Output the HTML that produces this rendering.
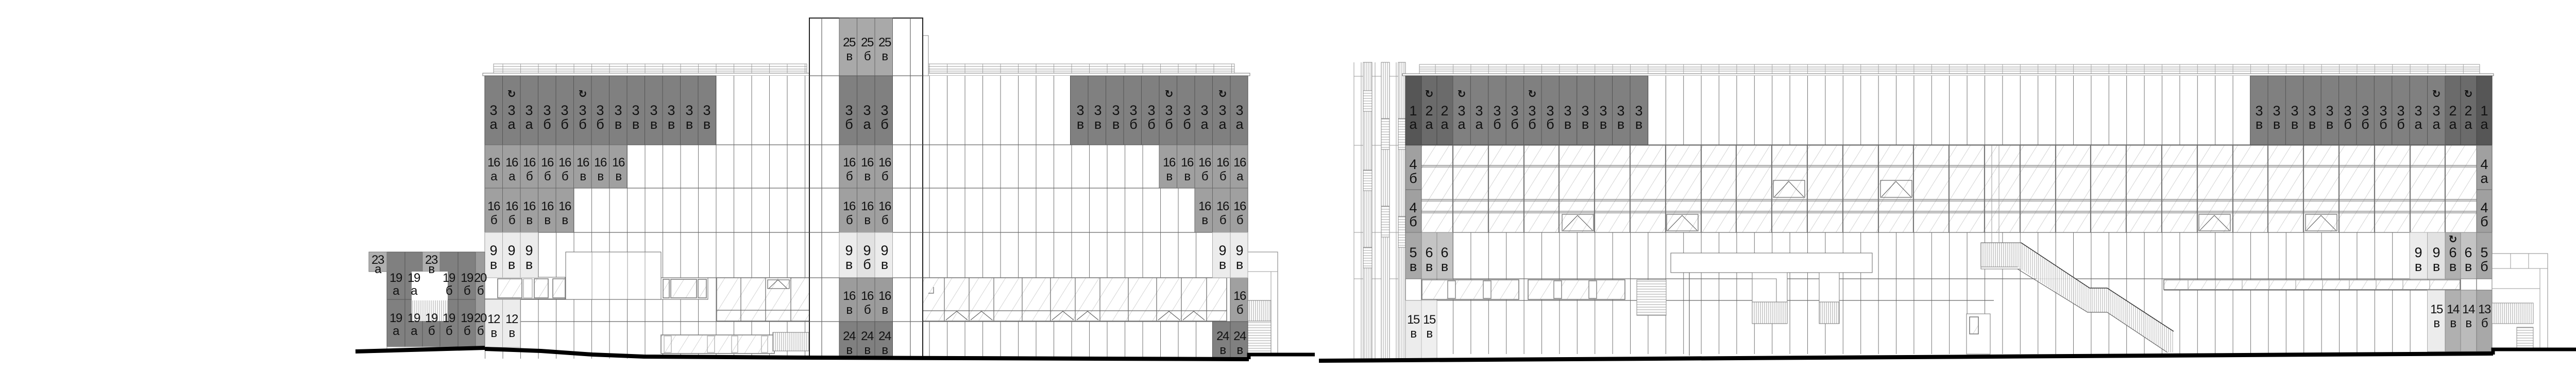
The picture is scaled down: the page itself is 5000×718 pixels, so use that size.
<!DOCTYPE html>
<html><head><meta charset="utf-8"><style>
html,body{margin:0;padding:0;background:#fff;}
svg{display:block;}
text{font-family:"Liberation Sans","DejaVu Sans",sans-serif;font-size:27px;fill:#111;text-anchor:middle;}
.s text,text.s{font-size:24px;letter-spacing:-1.5px;}
.ic{font-family:"DejaVu Sans",sans-serif;font-size:20px;font-weight:bold;}
.c3{fill:#808080;stroke:#555;stroke-width:1}
.c1{fill:#565656;stroke:#444;stroke-width:1}
.c2{fill:#6b6b6b;stroke:#444;stroke-width:1}
.cm{fill:#a0a0a0;stroke:#666;stroke-width:1}
.cl{fill:#ececec;stroke:#aaa;stroke-width:1}
.cb{fill:#c4c4c4;stroke:#888;stroke-width:1}
.ln{stroke:#666;stroke-width:1.2;fill:none}
.lt{stroke:#999;stroke-width:1;fill:none}
.fr{fill:url(#hatch);stroke:#777;stroke-width:1.5}
</style></head><body>
<svg width="5000" height="718" viewBox="0 0 5000 718" xmlns="http://www.w3.org/2000/svg">
<defs>
<pattern id="vL" patternUnits="userSpaceOnUse" x="941" y="0" width="34.5" height="718"><line x1="0.5" y1="0" x2="0.5" y2="718" stroke="#777" stroke-width="1.1"/></pattern>
<pattern id="vR" patternUnits="userSpaceOnUse" x="2820" y="0" width="34.4" height="718"><line x1="0.5" y1="0" x2="0.5" y2="718" stroke="#777" stroke-width="1.1"/></pattern>
<pattern id="hatch" patternUnits="userSpaceOnUse" width="22" height="22" patternTransform="rotate(32)"><rect width="22" height="22" fill="#fff"/><line x1="5" y1="0" x2="5" y2="22" stroke="#d4d4d4" stroke-width="1"/></pattern>
<pattern id="vbar" patternUnits="userSpaceOnUse" width="4" height="10"><rect width="4" height="10" fill="#fff"/><line x1="1" y1="0" x2="1" y2="10" stroke="#888" stroke-width="0.8"/></pattern>
<pattern id="hbar" patternUnits="userSpaceOnUse" width="10" height="5"><rect width="10" height="5" fill="#fff"/><line x1="0" y1="1" x2="10" y2="1" stroke="#888" stroke-width="0.8"/></pattern>
</defs>

<!-- ================= LEFT BUILDING ================= -->
<!-- railings -->
<g class="lt">
<rect x="958" y="124" width="608" height="18"/><line x1="958" y1="129" x2="1566" y2="129"/><line x1="958" y1="134" x2="1566" y2="134"/><line x1="958" y1="138" x2="1566" y2="138"/>
<rect x="1800" y="124" width="596" height="18"/><line x1="1800" y1="129" x2="2396" y2="129"/><line x1="1800" y1="134" x2="2396" y2="134"/><line x1="1800" y1="138" x2="2396" y2="138"/>
</g>
<rect x="958" y="124" width="608" height="18" fill="url(#vL)" opacity="0.6"/>
<rect x="1800" y="124" width="596" height="18" fill="url(#vL)" opacity="0.6"/>
<rect x="937" y="142" width="1489" height="5" fill="#fff" stroke="#777"/>
<!-- main block -->
<rect x="941" y="147" width="1481" height="549" fill="#fff"/>
<rect x="941" y="147" width="1481" height="549" fill="url(#vL)"/>
<g class="ln">
<line x1="941" y1="281" x2="2422" y2="281"/><line x1="941" y1="365" x2="2422" y2="365"/>
<line x1="941" y1="451" x2="2422" y2="451"/><line x1="941" y1="539" x2="2422" y2="539"/>
<line x1="941" y1="581" x2="1283" y2="581"/><line x1="941" y1="624" x2="2422" y2="624"/>
<line x1="2422" y1="147" x2="2422" y2="696"/><line x1="941" y1="147" x2="941" y2="676"/>
</g>
<!-- lower left details -->
<rect x="1098" y="489" width="185" height="92" fill="#fff" stroke="#666"/>
<line x1="1149" y1="489" x2="1149" y2="581" class="lt"/><line x1="1183" y1="489" x2="1183" y2="581" class="lt"/><line x1="1218" y1="489" x2="1218" y2="581" class="lt"/><line x1="1252" y1="489" x2="1252" y2="581" class="lt"/>
<rect x="941" y="538" width="156" height="42" fill="#fff" stroke="#666"/>
<rect x="966" y="541" width="47" height="37" class="fr"/><rect x="1016" y="541" width="17" height="37" fill="#fff" stroke="#888"/><rect x="1037" y="541" width="27" height="37" class="fr"/><rect x="1073" y="541" width="24" height="37" class="fr"/>
<rect x="1283" y="539" width="91" height="42" fill="#fff" stroke="#666"/>
<rect x="1287" y="542" width="12" height="36" class="fr"/><rect x="1302" y="542" width="50" height="36" class="fr"/><rect x="1355" y="542" width="16" height="36" class="fr"/>
<rect x="1391" y="539" width="180" height="84" class="fr"/>
<g class="ln"><line x1="1438" y1="539" x2="1438" y2="623"/><line x1="1486" y1="539" x2="1486" y2="623"/><line x1="1535" y1="539" x2="1535" y2="623"/><line x1="1391" y1="602" x2="1571" y2="602"/>
<polyline points="1492,560 1510,543 1528,560"/><rect x="1490" y="543" width="42" height="17"/></g>
<rect x="1283" y="650" width="220" height="36" class="fr"/>
<g class="lt"><rect x="1289" y="652" width="14" height="32"/><rect x="1373" y="652" width="14" height="32"/><rect x="1420" y="652" width="12" height="32"/><rect x="1478" y="652" width="12" height="32"/></g>
<rect x="1500" y="645" width="71" height="36" fill="url(#vbar)" stroke="#777"/>
<!-- right glazing -->
<rect x="1791" y="539" width="590" height="84" class="fr"/>
<g class="ln">
<line x1="1833" y1="539" x2="1833" y2="623"/><line x1="1881" y1="539" x2="1881" y2="623"/><line x1="1929" y1="539" x2="1929" y2="623"/><line x1="1984" y1="539" x2="1984" y2="623"/><line x1="2039" y1="539" x2="2039" y2="623"/><line x1="2087" y1="539" x2="2087" y2="623"/><line x1="2135" y1="539" x2="2135" y2="623"/><line x1="2190" y1="539" x2="2190" y2="623"/><line x1="2245" y1="539" x2="2245" y2="623"/><line x1="2293" y1="539" x2="2293" y2="623"/><line x1="2342" y1="539" x2="2342" y2="623"/>
<line x1="1791" y1="603" x2="2381" y2="603"/>
<polyline points="1836,621 1857,604 1878,621"/><polyline points="1884,621 1905,604 1926,621"/>
<polyline points="2042,621 2063,604 2084,621"/><polyline points="2090,621 2111,604 2132,621"/>
<polyline points="2248,621 2269,604 2290,621"/><polyline points="2296,621 2317,604 2338,621"/>
<polyline points="1812,557 1812,569 1802,569"/>
</g>
<!-- right extension -->
<rect x="2422" y="489" width="58" height="198" fill="#fff" stroke="#777"/>
<line x1="2422" y1="527" x2="2480" y2="527" class="lt"/><line x1="2467" y1="527" x2="2467" y2="687" class="lt"/>
<rect x="2422" y="583" width="45" height="40" fill="url(#vbar)" stroke="#777"/>
<rect x="2422" y="623" width="45" height="63" fill="url(#hbar)" stroke="#777"/>
<!-- tower -->
<rect x="1791" y="69" width="11" height="78" fill="#fff" stroke="#888"/>
<rect x="1571" y="35" width="220" height="658" fill="#fff" stroke="#222" stroke-width="2"/>
<g class="ln"><line x1="1595" y1="35" x2="1595" y2="693"/><line x1="1767" y1="35" x2="1767" y2="693"/><line x1="1571" y1="147" x2="1791" y2="147"/>
<line x1="1571" y1="281" x2="1791" y2="281"/><line x1="1571" y1="365" x2="1791" y2="365"/><line x1="1571" y1="451" x2="1791" y2="451"/><line x1="1571" y1="539" x2="1791" y2="539"/><line x1="1571" y1="624" x2="1791" y2="624"/></g>
<g>
<rect x="1629" y="35" width="34.5" height="112" fill="#a9a9a9" stroke="#666"/><rect x="1663.5" y="35" width="34.5" height="112" fill="#a9a9a9" stroke="#666"/><rect x="1698" y="35" width="34.5" height="112" fill="#a9a9a9" stroke="#666"/>
<rect x="1629" y="147" width="34.5" height="134" class="c3"/><rect x="1663.5" y="147" width="34.5" height="134" class="c3"/><rect x="1698" y="147" width="34.5" height="134" class="c3"/>
<rect x="1629" y="281" width="34.5" height="84" class="cm"/><rect x="1663.5" y="281" width="34.5" height="84" class="cm"/><rect x="1698" y="281" width="34.5" height="84" class="cm"/>
<rect x="1629" y="365" width="34.5" height="86" class="cm"/><rect x="1663.5" y="365" width="34.5" height="86" class="cm"/><rect x="1698" y="365" width="34.5" height="86" class="cm"/>
<rect x="1629" y="451" width="34.5" height="88" class="cl"/><rect x="1663.5" y="451" width="34.5" height="88" fill="#e2e2e2" stroke="#aaa"/><rect x="1698" y="451" width="34.5" height="88" class="cl"/>
<rect x="1629" y="539" width="34.5" height="85" fill="#9c9c9c" stroke="#666"/><rect x="1663.5" y="539" width="34.5" height="85" fill="#9c9c9c" stroke="#666"/><rect x="1698" y="539" width="34.5" height="85" fill="#9c9c9c" stroke="#666"/>
<rect x="1629" y="624" width="34.5" height="69" class="c3"/><rect x="1663.5" y="624" width="34.5" height="69" class="c3"/><rect x="1698" y="624" width="34.5" height="69" class="c3"/>
</g>
<!-- left dark row cells -->
<g class="c3">
<rect x="941" y="147" width="34.5" height="134"/><rect x="975.5" y="147" width="34.5" height="134"/><rect x="1010" y="147" width="34.5" height="134"/><rect x="1044.5" y="147" width="34.5" height="134"/><rect x="1079" y="147" width="34.5" height="134"/><rect x="1113.5" y="147" width="34.5" height="134"/><rect x="1148" y="147" width="34.5" height="134"/><rect x="1182.5" y="147" width="34.5" height="134"/><rect x="1217" y="147" width="34.5" height="134"/><rect x="1251.5" y="147" width="34.5" height="134"/><rect x="1286" y="147" width="34.5" height="134"/><rect x="1320.5" y="147" width="34.5" height="134"/><rect x="1355" y="147" width="34.5" height="134"/>
<rect x="2077.5" y="147" width="34.5" height="134"/><rect x="2112" y="147" width="34.5" height="134"/><rect x="2146.5" y="147" width="34.5" height="134"/><rect x="2181" y="147" width="34.5" height="134"/><rect x="2215.5" y="147" width="34.5" height="134"/><rect x="2250" y="147" width="34.5" height="134"/><rect x="2284.5" y="147" width="34.5" height="134"/><rect x="2319" y="147" width="34.5" height="134"/><rect x="2353.5" y="147" width="34.5" height="134"/><rect x="2388" y="147" width="34" height="134"/>
</g>
<g class="cm">
<rect x="941" y="281" width="34.5" height="84"/><rect x="975.5" y="281" width="34.5" height="84"/><rect x="1010" y="281" width="34.5" height="84"/><rect x="1044.5" y="281" width="34.5" height="84"/><rect x="1079" y="281" width="34.5" height="84"/><rect x="1113.5" y="281" width="34.5" height="84"/><rect x="1148" y="281" width="34.5" height="84"/><rect x="1182.5" y="281" width="34.5" height="84"/>
<rect x="2250" y="281" width="34.5" height="84"/><rect x="2284.5" y="281" width="34.5" height="84"/><rect x="2319" y="281" width="34.5" height="84"/><rect x="2353.5" y="281" width="34.5" height="84"/><rect x="2388" y="281" width="34" height="84"/>
<rect x="941" y="365" width="34.5" height="86"/><rect x="975.5" y="365" width="34.5" height="86"/><rect x="1010" y="365" width="34.5" height="86"/><rect x="1044.5" y="365" width="34.5" height="86"/><rect x="1079" y="365" width="34.5" height="86"/>
<rect x="2319" y="365" width="34.5" height="86"/><rect x="2353.5" y="365" width="34.5" height="86"/><rect x="2388" y="365" width="34" height="86"/>
<rect x="2388" y="539" width="34" height="85"/>
</g>
<g class="cl">
<rect x="941" y="451" width="34.5" height="88"/><rect x="975.5" y="451" width="34.5" height="88"/><rect x="1010" y="451" width="34.5" height="88"/>
<rect x="2353.5" y="451" width="34.5" height="88"/><rect x="2388" y="451" width="34" height="88"/>
<rect x="941" y="581" width="34.5" height="93"/><rect x="975.5" y="581" width="34.5" height="93"/>
</g>
<g class="c3"><rect x="2353.5" y="624" width="34.5" height="72"/><rect x="2388" y="624" width="34" height="72"/></g>
<!-- annex -->
<rect x="751" y="489" width="190" height="184" class="c3"/>
<g stroke="#555" stroke-width="1"><line x1="786" y1="489" x2="786" y2="673"/><line x1="820" y1="489" x2="820" y2="673"/><line x1="854" y1="489" x2="854" y2="673"/><line x1="889" y1="489" x2="889" y2="673"/><line x1="751" y1="581" x2="941" y2="581"/></g>
<rect x="923" y="489" width="18" height="184" fill="#9c9c9c" stroke="#666"/>
<rect x="716" y="489" width="35" height="38" fill="#b0b0b0" stroke="#777"/>
<rect x="820" y="489" width="34" height="38" fill="#b0b0b0" stroke="#777"/>
<rect x="799" y="527" width="70" height="56" fill="#fff"/>
<rect x="799" y="583" width="70" height="40" fill="url(#vbar)"/>
<rect x="751" y="673" width="190" height="4" fill="#fff" stroke="#999"/>

<!-- labels left -->
<g>
<text x="958" y="223">3<tspan x="958" dy="27">а</tspan></text>
<text x="993" y="223">3<tspan x="993" dy="27">а</tspan></text>
<text x="1027" y="223">3<tspan x="1027" dy="27">а</tspan></text>
<text x="1062" y="223">3<tspan x="1062" dy="27">б</tspan></text>
<text x="1096" y="223">3<tspan x="1096" dy="27">б</tspan></text>
<text x="1131" y="223">3<tspan x="1131" dy="27">б</tspan></text>
<text x="1165" y="223">3<tspan x="1165" dy="27">б</tspan></text>
<text x="1200" y="223">3<tspan x="1200" dy="27">в</tspan></text>
<text x="1234" y="223">3<tspan x="1234" dy="27">в</tspan></text>
<text x="1269" y="223">3<tspan x="1269" dy="27">в</tspan></text>
<text x="1303" y="223">3<tspan x="1303" dy="27">в</tspan></text>
<text x="1338" y="223">3<tspan x="1338" dy="27">в</tspan></text>
<text x="1372" y="223">3<tspan x="1372" dy="27">в</tspan></text>
<text x="1648" y="223">3<tspan x="1648" dy="27">б</tspan></text>
<text x="1683" y="223">3<tspan x="1683" dy="27">а</tspan></text>
<text x="1717" y="223">3<tspan x="1717" dy="27">б</tspan></text>
<text x="2097" y="223">3<tspan x="2097" dy="27">в</tspan></text>
<text x="2131" y="223">3<tspan x="2131" dy="27">в</tspan></text>
<text x="2166" y="223">3<tspan x="2166" dy="27">в</tspan></text>
<text x="2200" y="223">3<tspan x="2200" dy="27">б</tspan></text>
<text x="2235" y="223">3<tspan x="2235" dy="27">б</tspan></text>
<text x="2269" y="223">3<tspan x="2269" dy="27">б</tspan></text>
<text x="2304" y="223">3<tspan x="2304" dy="27">б</tspan></text>
<text x="2338" y="223">3<tspan x="2338" dy="27">а</tspan></text>
<text x="2373" y="223">3<tspan x="2373" dy="27">а</tspan></text>
<text x="2406" y="223">3<tspan x="2406" dy="27">а</tspan></text>
<text class="ic" x="993" y="189">↻</text><text class="ic" x="1131" y="189">↻</text><text class="ic" x="2269" y="189">↻</text><text class="ic" x="2373" y="189">↻</text>
</g>
<g class="s">
<text x="958" y="323">16<tspan x="958" dy="27">а</tspan></text>
<text x="993" y="323">16<tspan x="993" dy="27">а</tspan></text>
<text x="1027" y="323">16<tspan x="1027" dy="27">б</tspan></text>
<text x="1062" y="323">16<tspan x="1062" dy="27">б</tspan></text>
<text x="1096" y="323">16<tspan x="1096" dy="27">б</tspan></text>
<text x="1131" y="323">16<tspan x="1131" dy="27">в</tspan></text>
<text x="1165" y="323">16<tspan x="1165" dy="27">в</tspan></text>
<text x="1200" y="323">16<tspan x="1200" dy="27">в</tspan></text>
<text x="1648" y="323">16<tspan x="1648" dy="27">б</tspan></text>
<text x="1683" y="323">16<tspan x="1683" dy="27">в</tspan></text>
<text x="1717" y="323">16<tspan x="1717" dy="27">б</tspan></text>
<text x="2269" y="323">16<tspan x="2269" dy="27">в</tspan></text>
<text x="2304" y="323">16<tspan x="2304" dy="27">в</tspan></text>
<text x="2338" y="323">16<tspan x="2338" dy="27">б</tspan></text>
<text x="2373" y="323">16<tspan x="2373" dy="27">б</tspan></text>
<text x="2406" y="323">16<tspan x="2406" dy="27">а</tspan></text>
<text x="958" y="408">16<tspan x="958" dy="27">б</tspan></text>
<text x="993" y="408">16<tspan x="993" dy="27">б</tspan></text>
<text x="1027" y="408">16<tspan x="1027" dy="27">в</tspan></text>
<text x="1062" y="408">16<tspan x="1062" dy="27">в</tspan></text>
<text x="1096" y="408">16<tspan x="1096" dy="27">в</tspan></text>
<text x="1648" y="408">16<tspan x="1648" dy="27">б</tspan></text>
<text x="1683" y="408">16<tspan x="1683" dy="27">в</tspan></text>
<text x="1717" y="408">16<tspan x="1717" dy="27">б</tspan></text>
<text x="2338" y="408">16<tspan x="2338" dy="27">в</tspan></text>
<text x="2373" y="408">16<tspan x="2373" dy="27">б</tspan></text>
<text x="2406" y="408">16<tspan x="2406" dy="27">б</tspan></text>
<text x="1648" y="582">16<tspan x="1648" dy="27">в</tspan></text>
<text x="1683" y="582">16<tspan x="1683" dy="27">б</tspan></text>
<text x="1717" y="582">16<tspan x="1717" dy="27">в</tspan></text>
<text x="2406" y="582">16<tspan x="2406" dy="27">б</tspan></text>
<text x="1648" y="660">24<tspan x="1648" dy="27">в</tspan></text>
<text x="1683" y="660">24<tspan x="1683" dy="27">в</tspan></text>
<text x="1717" y="660">24<tspan x="1717" dy="27">в</tspan></text>
<text x="2373" y="660">24<tspan x="2373" dy="27">в</tspan></text>
<text x="2406" y="660">24<tspan x="2406" dy="27">в</tspan></text>
<text x="1648" y="90">25<tspan x="1648" dy="27">в</tspan></text>
<text x="1683" y="90">25<tspan x="1683" dy="27">б</tspan></text>
<text x="1717" y="90">25<tspan x="1717" dy="27">в</tspan></text>
<text x="958" y="627">12<tspan x="958" dy="27">в</tspan></text>
<text x="993" y="627">12<tspan x="993" dy="27">в</tspan></text>
<text x="733" y="512">23<tspan x="733" dy="18">а</tspan></text>
<text x="837" y="512">23<tspan x="837" dy="18">в</tspan></text>
<text x="768" y="547">19<tspan x="768" dy="25">а</tspan></text>
<text x="803" y="547">19<tspan x="803" dy="25">а</tspan></text>
<text x="871" y="547">19<tspan x="871" dy="25">б</tspan></text>
<text x="906" y="547">19<tspan x="906" dy="25">б</tspan></text>
<text x="932" y="547">20<tspan x="932" dy="25">б</tspan></text>
<text x="768" y="625">19<tspan x="768" dy="25">а</tspan></text>
<text x="803" y="625">19<tspan x="803" dy="25">а</tspan></text>
<text x="837" y="625">19<tspan x="837" dy="25">б</tspan></text>
<text x="871" y="625">19<tspan x="871" dy="25">б</tspan></text>
<text x="906" y="625">19<tspan x="906" dy="25">б</tspan></text>
<text x="932" y="625">20<tspan x="932" dy="25">б</tspan></text>
</g>
<g>
<text x="958" y="495">9<tspan x="958" dy="27">в</tspan></text>
<text x="993" y="495">9<tspan x="993" dy="27">в</tspan></text>
<text x="1027" y="495">9<tspan x="1027" dy="27">в</tspan></text>
<text x="1648" y="495">9<tspan x="1648" dy="27">в</tspan></text>
<text x="1683" y="495">9<tspan x="1683" dy="27">б</tspan></text>
<text x="1717" y="495">9<tspan x="1717" dy="27">в</tspan></text>
<text x="2373" y="495">9<tspan x="2373" dy="27">в</tspan></text>
<text x="2406" y="495">9<tspan x="2406" dy="27">в</tspan></text>
</g>
<!-- ground left -->
<polyline points="690,682 941,675" fill="none" stroke="#000" stroke-width="8"/>
<polyline points="941,677 1050,681 1150,688 1250,692 1571,694 2424,697" fill="none" stroke="#000" stroke-width="8"/>
<polyline points="2424,697 2424,688 2552,688" fill="none" stroke="#000" stroke-width="7"/>

<!-- ================= RIGHT BUILDING ================= -->
<!-- stair tower left -->
<g class="lt">
<line x1="2628" y1="121" x2="2628" y2="700"/><line x1="2642" y1="121" x2="2642" y2="700"/>
<line x1="2628" y1="148" x2="2728" y2="148"/><line x1="2628" y1="282" x2="2728" y2="282"/><line x1="2628" y1="451" x2="2728" y2="451"/><line x1="2628" y1="541" x2="2728" y2="541"/>
<line x1="2669" y1="121" x2="2669" y2="700"/><line x1="2710" y1="121" x2="2710" y2="700"/>
</g>
<rect x="2646" y="121" width="17" height="579" fill="url(#vbar)" stroke="#888"/>
<rect x="2681" y="121" width="16" height="579" fill="url(#vbar)" stroke="#888"/>
<rect x="2714" y="121" width="14" height="579" fill="url(#vbar)" stroke="#888"/>
<g fill="url(#hbar)" stroke="#888"><rect x="2646" y="176" width="17" height="40"/><rect x="2646" y="330" width="17" height="40"/><rect x="2646" y="480" width="17" height="40"/><rect x="2681" y="230" width="16" height="60"/><rect x="2681" y="400" width="16" height="60"/><rect x="2714" y="230" width="14" height="60"/><rect x="2714" y="420" width="14" height="60"/></g>
<!-- railing -->
<rect x="2755" y="125" width="2058" height="18" fill="#fff" stroke="#999"/>
<rect x="2755" y="125" width="2058" height="18" fill="url(#vR)" opacity="0.6"/>
<g class="lt"><line x1="2755" y1="130" x2="4813" y2="130"/><line x1="2755" y1="134" x2="4813" y2="134"/><line x1="2755" y1="138" x2="4813" y2="138"/></g>
<rect x="2722" y="143" width="2118" height="4" fill="#fff" stroke="#777"/>
<!-- block -->
<rect x="2728" y="147" width="2109" height="540" fill="#fff"/>
<rect x="2820" y="147" width="1926" height="540" fill="url(#vR)"/>
<g class="ln"><line x1="2728" y1="147" x2="2728" y2="698"/><line x1="4837" y1="147" x2="4837" y2="685"/>
<line x1="2759" y1="147" x2="2759" y2="698"/><line x1="2789" y1="147" x2="2789" y2="698"/><line x1="4776" y1="147" x2="4776" y2="685"/><line x1="4807" y1="147" x2="4807" y2="685"/>
<line x1="2728" y1="281" x2="4837" y2="281"/><line x1="2728" y1="451" x2="4837" y2="451"/><line x1="2728" y1="541" x2="4837" y2="541"/><line x1="2728" y1="583" x2="3870" y2="583"/><line x1="4200" y1="563" x2="4837" y2="563"/></g>
<!-- glass band -->
<rect x="2759" y="282" width="2048" height="169" fill="url(#hatch)" stroke="#666"/>
<g stroke="#777" stroke-width="1.3" fill="none">
<line x1="2759" y1="321" x2="4807" y2="321"/><line x1="2759" y1="324" x2="4807" y2="324"/>
<line x1="2759" y1="387" x2="4807" y2="387"/><line x1="2759" y1="390" x2="4807" y2="390"/>
<line x1="2759" y1="410" x2="4807" y2="410"/><line x1="2759" y1="413" x2="4807" y2="413"/>
</g>
<g stroke="#777" stroke-width="2.2">
<line x1="2820" y1="282" x2="2820" y2="451"/><line x1="2889" y1="282" x2="2889" y2="451"/><line x1="2958" y1="282" x2="2958" y2="451"/><line x1="3026" y1="282" x2="3026" y2="451"/><line x1="3095" y1="282" x2="3095" y2="451"/><line x1="3164" y1="282" x2="3164" y2="451"/><line x1="3233" y1="282" x2="3233" y2="451"/><line x1="3302" y1="282" x2="3302" y2="451"/><line x1="3370" y1="282" x2="3370" y2="451"/><line x1="3439" y1="282" x2="3439" y2="451"/><line x1="3508" y1="282" x2="3508" y2="451"/><line x1="3577" y1="282" x2="3577" y2="451"/><line x1="3646" y1="282" x2="3646" y2="451"/><line x1="3714" y1="282" x2="3714" y2="451"/><line x1="3783" y1="282" x2="3783" y2="451"/><line x1="3852" y1="282" x2="3852" y2="451"/><line x1="3921" y1="282" x2="3921" y2="451"/><line x1="3990" y1="282" x2="3990" y2="451"/><line x1="4058" y1="282" x2="4058" y2="451"/><line x1="4127" y1="282" x2="4127" y2="451"/><line x1="4196" y1="282" x2="4196" y2="451"/><line x1="4265" y1="282" x2="4265" y2="451"/><line x1="4334" y1="282" x2="4334" y2="451"/><line x1="4402" y1="282" x2="4402" y2="451"/><line x1="4471" y1="282" x2="4471" y2="451"/><line x1="4540" y1="282" x2="4540" y2="451"/><line x1="4609" y1="282" x2="4609" y2="451"/><line x1="4678" y1="282" x2="4678" y2="451"/><line x1="4746" y1="282" x2="4746" y2="451"/>
</g>
<g class="ln">
<rect x="3442" y="350" width="61" height="33"/><polyline points="3444,382 3472,352 3501,382"/>
<rect x="3650" y="350" width="61" height="33"/><polyline points="3652,382 3680,352 3709,382"/>
<rect x="3032" y="416" width="61" height="32"/><polyline points="3034,447 3062,418 3091,447"/>
<rect x="3235" y="416" width="61" height="32"/><polyline points="3237,447 3265,418 3294,447"/>
<rect x="4268" y="416" width="61" height="32"/><polyline points="4270,447 4298,418 4327,447"/>
<rect x="4475" y="416" width="61" height="32"/><polyline points="4477,447 4505,418 4534,447"/>
</g>
<!-- lower windows -->
<rect x="2760" y="543" width="188" height="38" class="fr"/><rect x="2966" y="543" width="188" height="38" class="fr"/>
<g fill="#fff" stroke="#888" stroke-width="1.5"><rect x="2810" y="545" width="15" height="34"/><rect x="2879" y="545" width="15" height="34"/><rect x="3016" y="545" width="15" height="34"/><rect x="3084" y="545" width="15" height="34"/></g>
<rect x="3177" y="543" width="57" height="69" fill="url(#hbar)" stroke="#888"/>
<rect x="4200" y="543" width="575" height="19" class="fr"/>
<g class="lt"><line x1="4247" y1="543" x2="4247" y2="562"/><line x1="4300" y1="543" x2="4300" y2="562"/><line x1="4352" y1="543" x2="4352" y2="562"/><line x1="4404" y1="543" x2="4404" y2="562"/><line x1="4456" y1="543" x2="4456" y2="562"/><line x1="4508" y1="543" x2="4508" y2="562"/><line x1="4560" y1="543" x2="4560" y2="562"/><line x1="4612" y1="543" x2="4612" y2="562"/><line x1="4664" y1="543" x2="4664" y2="562"/><line x1="4716" y1="543" x2="4716" y2="562"/></g>
<!-- canopy, doors -->
<rect x="3243" y="491" width="391" height="38" fill="#fff" stroke="#666"/>
<line x1="3279" y1="529" x2="3279" y2="690" class="ln"/>
<rect x="3401" y="529" width="68" height="99" fill="#fff" stroke="#777"/><rect x="3401" y="541" width="47" height="45" fill="#fff" stroke="#777"/>
<rect x="3401" y="586" width="68" height="42" fill="url(#vbar)" stroke="#777"/>
<rect x="3531" y="529" width="39" height="99" fill="#fff" stroke="#777"/><rect x="3531" y="586" width="39" height="42" fill="url(#vbar)" stroke="#777"/>
<rect x="3817" y="609" width="46" height="78" fill="#fff" stroke="#777"/><rect x="3823" y="615" width="17" height="33" class="fr"/>
<!-- stair -->
<rect x="3845" y="471" width="78" height="47" fill="url(#vbar)" stroke="#555"/>
<rect x="3845" y="518" width="78" height="4" fill="#fff" stroke="#777"/>
<polygon points="3923,471 4056,559 4090,559 4219,643 4219,684 4207,684 4090,606 4052,606 3916,518" fill="url(#vbar)" opacity="0.85"/>
<polyline points="3923,471 4056,559 4090,559 4219,643" fill="none" stroke="#333" stroke-width="1.5"/>
<polyline points="3916,522 4052,606 4090,606 4207,684" fill="none" stroke="#666" stroke-width="1.2"/>
<line x1="3866" y1="282" x2="3866" y2="471" class="lt"/><line x1="3880" y1="282" x2="3880" y2="471" class="lt"/>
<!-- right extension -->
<rect x="4837" y="492" width="108" height="185" fill="#fff" stroke="#888"/>
<g class="lt"><line x1="4837" y1="521" x2="4945" y2="521"/><line x1="4873" y1="492" x2="4873" y2="521"/><line x1="4908" y1="492" x2="4908" y2="521"/><line x1="4930" y1="521" x2="4930" y2="677"/><line x1="4837" y1="560" x2="4930" y2="560"/></g>
<rect x="4837" y="588" width="80" height="40" fill="url(#vbar)" stroke="#888"/>
<rect x="4885" y="635" width="32" height="42" fill="url(#hbar)" stroke="#888"/>
<!-- right cells -->
<g>
<rect x="2728" y="147" width="31" height="134" class="c1"/>
<rect x="2759" y="147" width="30" height="134" class="c2"/><rect x="2789" y="147" width="31" height="134" class="c2"/>
<rect x="4746" y="147" width="30" height="134" class="c2"/><rect x="4776" y="147" width="31" height="134" class="c2"/>
<rect x="4807" y="147" width="30" height="134" class="c1"/>
</g>
<g class="c3">
<rect x="2820" y="147" width="34.4" height="134"/><rect x="2854.4" y="147" width="34.4" height="134"/><rect x="2888.8" y="147" width="34.4" height="134"/><rect x="2923.2" y="147" width="34.4" height="134"/><rect x="2957.6" y="147" width="34.4" height="134"/><rect x="2992" y="147" width="34.4" height="134"/><rect x="3026.4" y="147" width="34.4" height="134"/><rect x="3060.8" y="147" width="34.4" height="134"/><rect x="3095.2" y="147" width="34.4" height="134"/><rect x="3129.6" y="147" width="34.4" height="134"/><rect x="3164" y="147" width="34.4" height="134"/>
<rect x="4367.6" y="147" width="34.4" height="134"/><rect x="4402" y="147" width="34.4" height="134"/><rect x="4436.4" y="147" width="34.4" height="134"/><rect x="4470.8" y="147" width="34.4" height="134"/><rect x="4505.2" y="147" width="34.4" height="134"/><rect x="4539.6" y="147" width="34.4" height="134"/><rect x="4574" y="147" width="34.4" height="134"/><rect x="4608.4" y="147" width="34.4" height="134"/><rect x="4642.8" y="147" width="34.4" height="134"/><rect x="4677.2" y="147" width="34.4" height="134"/><rect x="4711.6" y="147" width="34.4" height="134"/>
</g>
<g class="cm">
<rect x="2728" y="282" width="31" height="86"/><rect x="2728" y="368" width="31" height="84"/>
<rect x="4807" y="282" width="30" height="86"/><rect x="4807" y="368" width="30" height="84"/>
</g>
<rect x="2728" y="451" width="31" height="90" fill="#a8a8a8" stroke="#777"/>
<rect x="2759" y="451" width="30" height="90" class="cb"/><rect x="2789" y="451" width="31" height="90" class="cb"/>
<rect x="4677.2" y="451" width="34.4" height="90" class="cl"/><rect x="4711.6" y="451" width="34.4" height="90" fill="#e2e2e2" stroke="#aaa"/>
<rect x="4746" y="451" width="30" height="90" fill="#b0b0b0" stroke="#888"/><rect x="4776" y="451" width="31" height="90" class="cb"/><rect x="4807" y="451" width="30" height="90" fill="#a8a8a8" stroke="#777"/>
<rect x="2728" y="583" width="31" height="113" class="cl"/><rect x="2759" y="583" width="30" height="113" fill="#efefef" stroke="#bbb"/>
<rect x="4711.6" y="563" width="34.4" height="119" class="cl"/><rect x="4746" y="563" width="30" height="119" fill="#b0b0b0" stroke="#888"/><rect x="4776" y="563" width="31" height="119" fill="#bbbbbb" stroke="#888"/><rect x="4807" y="563" width="30" height="119" fill="#a8a8a8" stroke="#777"/>
<!-- right labels -->
<g>
<text x="2743" y="224">1<tspan x="2743" dy="26">а</tspan></text>
<text x="2774" y="224">2<tspan x="2774" dy="26">а</tspan></text>
<text x="2804" y="224">2<tspan x="2804" dy="26">а</tspan></text>
<text x="2837" y="224">3<tspan x="2837" dy="26">а</tspan></text>
<text x="2871" y="224">3<tspan x="2871" dy="26">а</tspan></text>
<text x="2906" y="224">3<tspan x="2906" dy="26">б</tspan></text>
<text x="2940" y="224">3<tspan x="2940" dy="26">б</tspan></text>
<text x="2974" y="224">3<tspan x="2974" dy="26">б</tspan></text>
<text x="3009" y="224">3<tspan x="3009" dy="26">б</tspan></text>
<text x="3043" y="224">3<tspan x="3043" dy="26">в</tspan></text>
<text x="3077" y="224">3<tspan x="3077" dy="26">в</tspan></text>
<text x="3112" y="224">3<tspan x="3112" dy="26">в</tspan></text>
<text x="3146" y="224">3<tspan x="3146" dy="26">в</tspan></text>
<text x="3181" y="224">3<tspan x="3181" dy="26">в</tspan></text>
<text x="4385" y="224">3<tspan x="4385" dy="26">в</tspan></text>
<text x="4419" y="224">3<tspan x="4419" dy="26">в</tspan></text>
<text x="4454" y="224">3<tspan x="4454" dy="26">в</tspan></text>
<text x="4488" y="224">3<tspan x="4488" dy="26">в</tspan></text>
<text x="4522" y="224">3<tspan x="4522" dy="26">в</tspan></text>
<text x="4557" y="224">3<tspan x="4557" dy="26">б</tspan></text>
<text x="4591" y="224">3<tspan x="4591" dy="26">б</tspan></text>
<text x="4626" y="224">3<tspan x="4626" dy="26">б</tspan></text>
<text x="4660" y="224">3<tspan x="4660" dy="26">б</tspan></text>
<text x="4694" y="224">3<tspan x="4694" dy="26">а</tspan></text>
<text x="4729" y="224">3<tspan x="4729" dy="26">а</tspan></text>
<text x="4761" y="224">2<tspan x="4761" dy="26">а</tspan></text>
<text x="4791" y="224">2<tspan x="4791" dy="26">а</tspan></text>
<text x="4822" y="224">1<tspan x="4822" dy="26">а</tspan></text>
<text class="ic" x="2774" y="189">↻</text><text class="ic" x="2837" y="189">↻</text><text class="ic" x="2974" y="189">↻</text>
<text class="ic" x="4729" y="189">↻</text><text class="ic" x="4791" y="189">↻</text>
<text x="2743" y="328">4<tspan x="2743" dy="27">б</tspan></text>
<text x="2743" y="412">4<tspan x="2743" dy="27">б</tspan></text>
<text x="4822" y="328">4<tspan x="4822" dy="27">а</tspan></text>
<text x="4822" y="412">4<tspan x="4822" dy="27">б</tspan></text>
<text x="2743" y="499">5<tspan x="2743" dy="27">в</tspan></text>
<text x="2774" y="499">6<tspan x="2774" dy="27">в</tspan></text>
<text x="2804" y="499">6<tspan x="2804" dy="27">в</tspan></text>
<text x="4694" y="499">9<tspan x="4694" dy="27">в</tspan></text>
<text x="4729" y="499">9<tspan x="4729" dy="27">в</tspan></text>
<text x="4761" y="499">6<tspan x="4761" dy="27">в</tspan></text>
<text x="4791" y="499">6<tspan x="4791" dy="27">в</tspan></text>
<text x="4822" y="499">5<tspan x="4822" dy="27">б</tspan></text>
<text class="ic" x="4761" y="471">↻</text>
</g>
<g class="s">
<text x="2743" y="628">15<tspan x="2743" dy="27">в</tspan></text>
<text x="2774" y="628">15<tspan x="2774" dy="27">в</tspan></text>
<text x="4729" y="608">15<tspan x="4729" dy="27">в</tspan></text>
<text x="4761" y="608">14<tspan x="4761" dy="27">в</tspan></text>
<text x="4791" y="608">14<tspan x="4791" dy="27">в</tspan></text>
<text x="4822" y="608">13<tspan x="4822" dy="27">б</tspan></text>
</g>
<!-- ground right -->
<polyline points="2560,700 4839,686" fill="none" stroke="#000" stroke-width="8"/>
<polyline points="4839,688 4839,678 5000,678" fill="none" stroke="#000" stroke-width="7"/>
</svg>
</body></html>
